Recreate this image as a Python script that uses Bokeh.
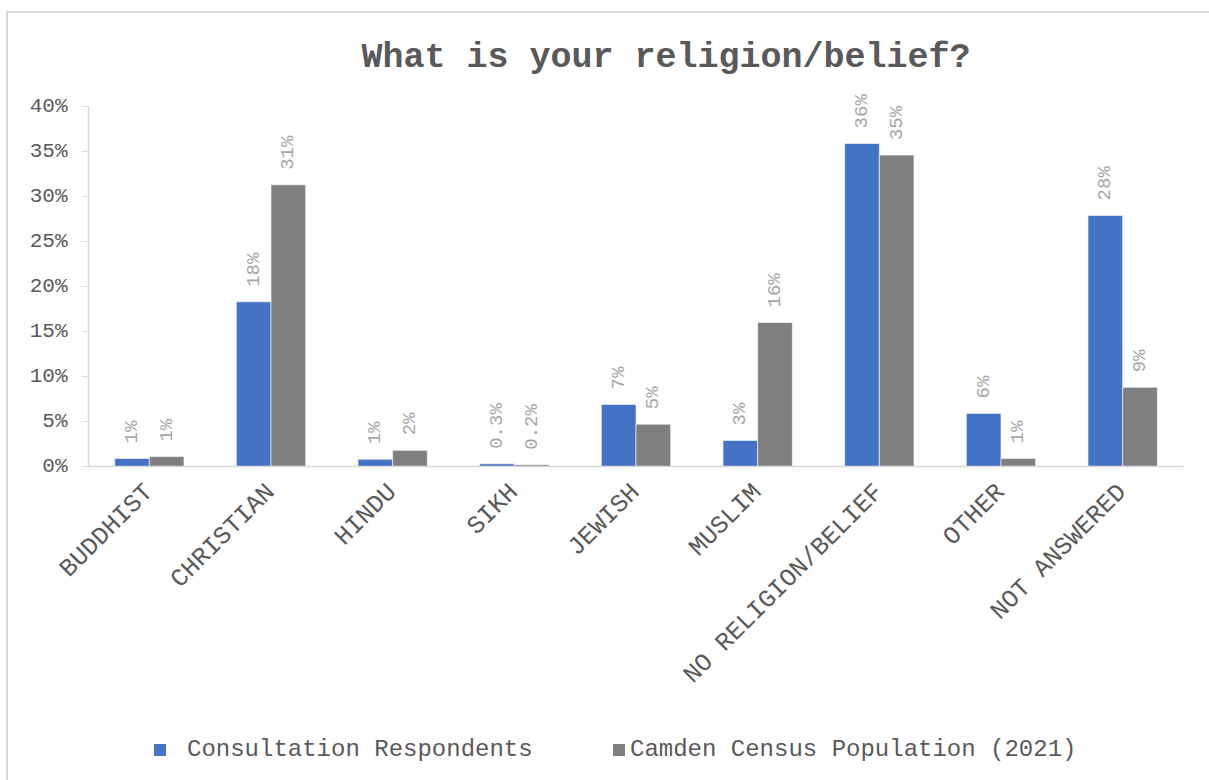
import math
from bokeh.plotting import figure
from bokeh.layouts import column
from bokeh.models import (ColumnDataSource, FactorRange, Range1d, FixedTicker,
                          Legend, LegendItem, PrintfTickFormatter)
from bokeh.transform import dodge
from bokeh.core.properties import value
from bokeh.embed import file_html
from bokeh.resources import INLINE

# ---- data ----
categories = ["BUDDHIST", "CHRISTIAN", "HINDU", "SIKH", "JEWISH", "MUSLIM",
              "NO RELIGION/BELIEF", "OTHER", "NOT ANSWERED"]
respondents = [0.9, 18.3, 0.8, 0.3, 6.9, 2.9, 35.9, 5.9, 27.9]
census = [1.1, 31.3, 1.8, 0.2, 4.7, 16.0, 34.6, 0.9, 8.8]
y_ticks = [0, 5, 10, 15, 20, 25, 30, 35, 40]
series_names = ["Consultation Respondents", "Camden Census Population (2021)"]
title_text = "What is your religion/belief?"


def fmt(v):
    return f"{v:.1f}%" if v < 0.5 else f"{int(round(v))}%"


src = ColumnDataSource(dict(
    cat=categories,
    resp=respondents,
    census=census,
    resp_label=[fmt(v) for v in respondents],
    census_label=[fmt(v) for v in census],
))

FONT = "Liberation Mono"
TXT = "#595959"
BLUE = "#4472C4"
GREY = "#7F7F7F"
AXIS = "#d9d9d9"

# main chart: frame spans page y 80..466 (zero line), 9 px per percent
p = figure(
    width=1201, height=713,
    x_range=FactorRange(factors=categories, range_padding=0),
    y_range=Range1d(0, 386 / 9),
    output_backend="svg", toolbar_location=None,
    min_border_left=80, min_border_right=26, min_border_top=67, min_border_bottom=260,
)

off = 0.1425
bw = 0.285
p.vbar(x=dodge("cat", -off, range=p.x_range), top="resp", width=bw,
       source=src, fill_color=BLUE, line_color="white", line_alpha=0.6, line_width=1)
p.vbar(x=dodge("cat", off, range=p.x_range), top="census", width=bw,
       source=src, fill_color=GREY, line_color="white", line_alpha=0.6, line_width=1)

# value labels
for col, lab, o in (("resp", "resp_label", -off), ("census", "census_label", off)):
    p.text(x=dodge("cat", o, range=p.x_range), y=col, text=lab, source=src,
           angle=math.pi / 2, text_align="left", text_baseline="middle",
           y_offset=-15, text_font=value(FONT), text_font_size="19px",
           text_color="#a6a6a6")

# title
p.title.text = title_text
p.title.align = "left"
p.title.offset = 273
p.title.text_font = FONT
p.title.text_font_size = "35px"
p.title.text_font_style = "bold"
p.title.text_color = TXT
p.title.standoff = 6

# axes
p.xgrid.visible = False
p.ygrid.visible = False
p.outline_line_color = None

p.xaxis.major_label_orientation = math.pi / 4
p.xaxis.major_tick_line_color = None
p.xaxis.minor_tick_line_color = None
p.xaxis.axis_line_color = AXIS
p.xaxis.axis_line_width = 1.5
p.xaxis.major_label_text_font = FONT
p.xaxis.major_label_text_font_size = "25px"
p.xaxis.major_label_text_color = TXT
p.xaxis.major_label_standoff = 16

p.yaxis.ticker = FixedTicker(ticks=y_ticks)
p.yaxis.formatter = PrintfTickFormatter(format="%d%%")
p.yaxis.bounds = (0, 40)
p.yaxis.axis_line_color = AXIS
p.yaxis.axis_line_width = 1.5
p.yaxis.major_tick_line_color = AXIS
p.yaxis.major_tick_out = 7
p.yaxis.major_tick_in = 0
p.yaxis.minor_tick_line_color = None
p.yaxis.major_label_text_font = FONT
p.yaxis.major_label_text_font_size = "21px"
p.yaxis.major_label_text_color = TXT
p.yaxis.major_label_standoff = 14

# legend strip below the chart (same series; its y window lies above the data,
# so only the legend keys show). Its frame is aligned with the chart's frame.
lg = figure(width=1201, height=54,
            x_range=FactorRange(factors=categories, range_padding=0),
            y_range=Range1d(50, 51),
            x_axis_location=None, y_axis_location=None,
            output_backend="svg", toolbar_location=None, min_border=0)
lg.grid.visible = False
lg.outline_line_color = None
k1 = lg.vbar(x="cat", top="resp", width=bw, source=src, fill_color=BLUE, line_color=None)
k2 = lg.vbar(x="cat", top="census", width=bw, source=src, fill_color=GREY, line_color=None)
for r, name, loc, standoff in ((k1, series_names[0], (64, 17), 20),
                               (k2, series_names[1], (523, 17), 4)):
    leg = Legend(items=[LegendItem(label=name, renderers=[r])], location=loc,
                 padding=0, margin=0, border_line_color=None, background_fill_alpha=0,
                 glyph_width=15, glyph_height=15, label_standoff=standoff,
                 label_text_font=FONT, label_text_font_size="24px",
                 label_text_color=TXT)
    lg.add_layout(leg, "center")

page = column(p, lg, spacing=0,
              styles={"margin-left": "6px", "margin-top": "11px",
                      "border-left": "2px solid #d9d9d9", "border-top": "2px solid #d9d9d9"})

open("out.html", "w").write(file_html(page, INLINE))
